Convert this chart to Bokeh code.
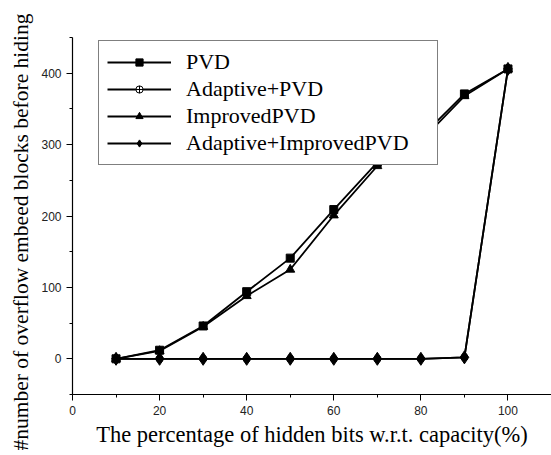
from bokeh.plotting import figure
from bokeh.models import Range1d, SingleIntervalTicker, Legend, LegendItem, ColumnDataSource, Title
from bokeh.embed import file_html
from bokeh.resources import INLINE

capacity = [10, 20, 30, 40, 50, 60, 70, 80, 90, 100]
pvd = [0, 12, 46, 94, 141, 209, 275, 310, 371, 406]
adaptive_pvd = [0, 0, 0, 0, 0, 0, 0, 0, 2, 406]
improved_pvd = [0, 11, 45, 88, 125, 201, 270, 305, 368, 406]
adaptive_improved_pvd = [0, 0, 0, 0, 0, 0, 0, 0, 2, 406]
names = ["PVD", "Adaptive+PVD", "ImprovedPVD", "Adaptive+ImprovedPVD"]

SERIF = "Liberation Serif"
SANS = "Liberation Sans"

p = figure(width=551, height=455, output_backend="svg", toolbar_location=None,
           x_range=Range1d(0, 110), y_range=Range1d(-50, 450))
p.min_border_left = 72
p.min_border_right = 0
p.min_border_top = 37
p.min_border_bottom = 61
p.outline_line_color = None
p.xgrid.visible = False
p.ygrid.visible = False
p.background_fill_color = "white"
p.border_fill_color = "white"

p.xaxis.ticker = SingleIntervalTicker(interval=20, num_minor_ticks=2)
p.yaxis.ticker = SingleIntervalTicker(interval=100, num_minor_ticks=2)
for ax in (p.xaxis, p.yaxis):
    ax.axis_line_color = "black"
    ax.axis_line_width = 1.2
    ax.major_tick_line_color = "black"
    ax.minor_tick_line_color = "black"
    ax.major_tick_out = 6
    ax.major_tick_in = 0
    ax.minor_tick_out = 3
    ax.minor_tick_in = 0
    ax.major_label_text_font = SANS
    ax.major_label_text_font_size = "12px"
    ax.major_label_text_color = "#222222"
    ax.axis_label_text_font = SERIF
    ax.axis_label_text_font_style = "normal"
    ax.axis_label_text_font_size = "22.5px"
    ax.axis_label_text_color = "black"

p.xaxis.axis_label = "The percentage of hidden bits w.r.t. capacity(%)"
p.xaxis.axis_label_standoff = 4

ytitle = Title(text="#number of overflow embeed blocks before hiding", align="left",
               text_font=SERIF, text_font_size="21.5px", text_font_style="normal",
               text_color="black", offset=-56, standoff=12)
p.add_layout(ytitle, "left")

series = [
    (pvd, "square", 8),
    (adaptive_pvd, "circle_cross", 7),
    (improved_pvd, "triangle", 9),
    (adaptive_improved_pvd, "diamond", 13),
]

items = []
for (vals, marker, size), name in zip(series, names):
    src = ColumnDataSource(dict(x=capacity, y=vals))
    ln = p.line("x", "y", source=src, line_color="black", line_width=1.8)
    mk = p.scatter("x", "y", source=src, marker=marker, size=size,
                   fill_color="white" if marker == "circle_cross" else "black",
                   line_color="black", line_width=1)
    items.append(LegendItem(label=name, renderers=[ln, mk]))

legend = Legend(items=items, location=(26, 229))
legend.label_text_font = SERIF
legend.label_text_font_size = "22px"
legend.label_text_color = "black"
legend.border_line_color = "black"
legend.border_line_width = 1
legend.background_fill_color = "white"
legend.background_fill_alpha = 1
legend.padding = 8
legend.spacing = 1
legend.margin = 0
legend.glyph_width = 64
legend.glyph_height = 18
legend.label_height = 18
legend.label_standoff = 15
legend.label_width = 243
p.add_layout(legend, "center")

open("out.html", "w").write(file_html(p, INLINE))
